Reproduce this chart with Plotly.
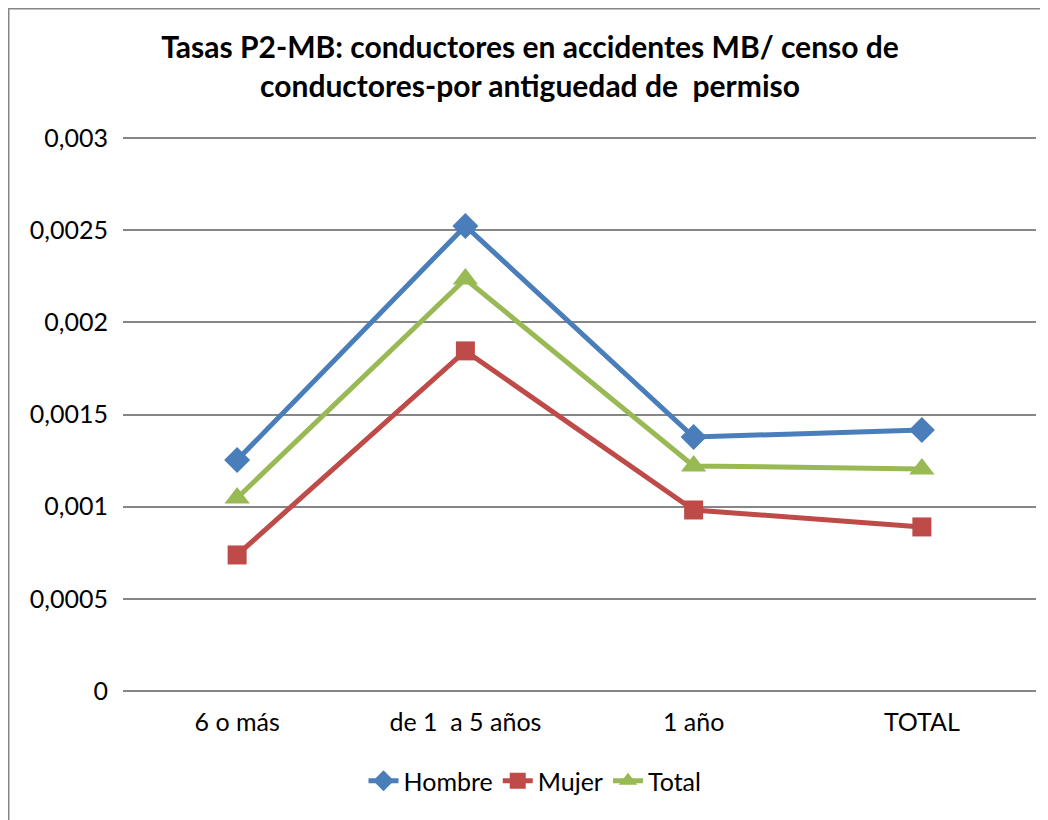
import plotly.graph_objects as go

categories = ["6 o más", "de 1  a 5 años", "1 año", "TOTAL"]
hombre = [0.001253, 0.002523, 0.001378, 0.001416]
mujer = [0.000738, 0.001845, 0.000982, 0.000890]
total = [0.001047, 0.002235, 0.001221, 0.001205]

series = [
    ("Hombre", hombre, "#4a7ebb", "diamond", 20),
    ("Mujer", mujer, "#be4b48", "square", 19),
    ("Total", total, "#98b954", "triangle-up", 22),
]

FONT = "Lato, sans-serif"

# page is offset by the 8px body margin
OFF = 8
W, H = 1048 - OFF, 820 - OFF
YMAX = 0.003
px_per_unit = (691 - 138) / YMAX
EXTRA = 4  # px of headroom so the top gridline is drawn
l, r, t, b = 123 - OFF, 20 - OFF, 138 - OFF - EXTRA, 820 - 691
pw, ph = W - l - r, H - t - b

fig = go.Figure()
for name, vals, color, sym, size in series:
    fig.add_trace(go.Scatter(
        x=list(range(len(categories))), y=vals, name=name, mode="lines+markers",
        line=dict(color=color, width=5),
        marker=dict(symbol=sym, size=size, color=color),
    ))

fig.update_layout(
    width=W, height=H,
    margin=dict(l=l, r=r, t=t, b=b),
    paper_bgcolor="white", plot_bgcolor="white",
    font=dict(family=FONT, size=25, color="#000000"),
    title=dict(
        text="<b>Tasas P2-MB: conductores en accidentes MB/ censo de<br>conductores-por antiguedad de  permiso</b>",
        x=(530 - OFF) / W, xanchor="center", y=1 - 50 / H, yanchor="middle",
        font=dict(family=FONT, size=30, color="#000000"),
    ),
    xaxis=dict(
        tickmode="array", tickvals=list(range(len(categories))), ticktext=categories,
        range=[-0.5, 3.5], showgrid=False, zeroline=False, showline=False,
        ticks="", ticklabelstandoff=14,
    ),
    yaxis=dict(
        range=[0, YMAX + EXTRA / px_per_unit],
        tickvals=[0, 0.0005, 0.001, 0.0015, 0.002, 0.0025, 0.003],
        ticktext=["0", "0,0005", "0,001", "0,0015", "0,002", "0,0025", "0,003"],
        showgrid=True, gridcolor="#868686", gridwidth=1.5,
        zeroline=True, zerolinecolor="#868686", zerolinewidth=1.5,
        showline=False, ticks="", ticklabelstandoff=14,
    ),
    legend=dict(
        orientation="h", x=(535 - 123) / pw, xanchor="center",
        y=-(781 - 691) / ph, yanchor="middle",
        font=dict(family=FONT, size=25), tracegroupgap=0,
    ),
    showlegend=True,
)

# chart-area border
fig.add_shape(type="rect", xref="paper", yref="paper",
              x0=(0.5 - l) / pw, x1=(W + 20 - l) / pw,
              y0=-(b + 20) / ph, y1=1 + (t - 0.5) / ph,
              line=dict(color="#868686", width=2), fillcolor="rgba(0,0,0,0)", layer="below")

fig.write_html("out.html")
